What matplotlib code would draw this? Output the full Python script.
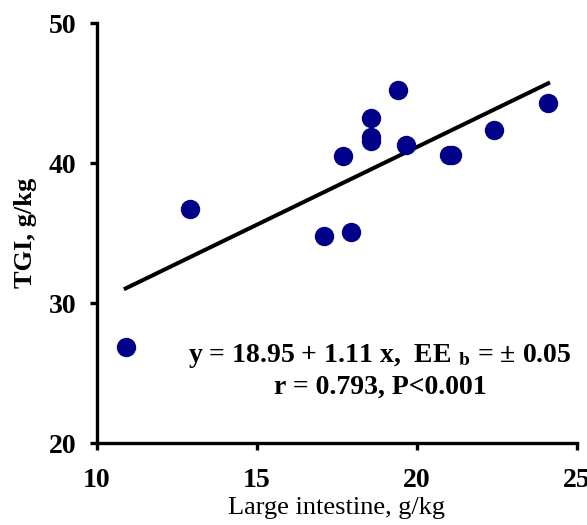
import numpy as np
import matplotlib
matplotlib.use("Agg")
import matplotlib.pyplot as plt

plt.rcParams["font.family"] = ["Liberation Serif", "DejaVu Serif"]
plt.rcParams["mathtext.fontset"] = "stix"

# data
large_intestine = [10.9, 12.9, 17.1, 17.95, 17.7, 18.55, 18.55, 18.55, 19.4, 19.65, 21.0, 21.1, 22.4, 24.1]
tgi = [26.85, 36.7, 34.8, 35.05, 40.5, 43.2, 41.9, 41.6, 45.2, 41.3, 40.6, 40.6, 42.4, 44.3]
intercept = 18.95
slope = 1.11

fig = plt.figure(figsize=(5.87, 5.25), dpi=100)
ax = fig.add_axes([0.165, 0.156, 0.818, 0.800])

ax.scatter(large_intestine, tgi, s=195, color="#000088", zorder=3, linewidths=0)

xl = np.array([min(large_intestine), max(large_intestine)])
ax.plot(xl, intercept + slope * xl, color="black", lw=2.9, zorder=2)

ax.set_xlim(10, 25)
ax.set_ylim(20, 50)
ax.set_xticks([10, 15, 20, 25])
ax.set_yticks([20, 30, 40, 50])
ax.tick_params(direction="out", length=5, width=2.4, labelsize=20)
ax.tick_params(axis="x", pad=13)
ax.tick_params(axis="y", pad=10)
for lab in ax.get_xticklabels() + ax.get_yticklabels():
    lab.set_fontweight("bold")

for side in ["top", "right"]:
    ax.spines[side].set_visible(False)
for side in ["left", "bottom"]:
    ax.spines[side].set_linewidth(2.4)

ax.set_xlabel("Large intestine, g/kg", fontsize=19)
ax.xaxis.set_label_coords(0.5, -0.128)
ax.set_ylabel("TGI, g/kg", fontsize=19, fontweight="bold", labelpad=8)

ax.text(18.85, 26.2, r"y = 18.95 + 1.11 x,  EE $_\mathbf{b}$ = ± 0.05",
        ha="center", va="center", fontsize=20, fontweight="bold")
ax.text(18.85, 24.0, "r = 0.793, P<0.001",
        ha="center", va="center", fontsize=20, fontweight="bold")

fig.savefig("out.png", dpi=100)
